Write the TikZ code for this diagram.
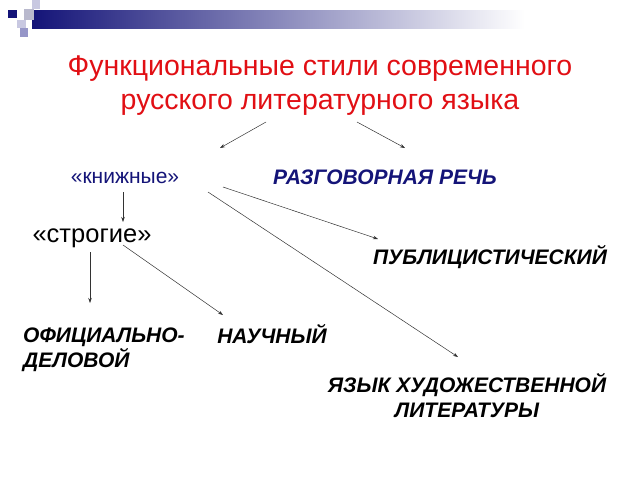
\documentclass[tikz,border=0pt]{standalone}
\usepackage{fontspec}
\setmainfont{Liberation Sans}
\usetikzlibrary{arrows.meta}
\definecolor{navy}{RGB}{20,20,120}
\definecolor{titlered}{RGB}{225,15,20}
\definecolor{sqlight}{RGB}{200,200,225}
\definecolor{sqmid}{RGB}{150,150,200}
\definecolor{sqgrey}{RGB}{185,185,205}
\tikzset{
  conn/.style={draw=black!80, line width=0.5pt, -{Stealth[length=5pt,width=3.5pt]}},
  lbl/.style={inner sep=0pt, font=\fontsize{21}{25}\selectfont},
  bi/.style={lbl, font=\fontsize{21}{25}\selectfont\bfseries\itshape},
}
\begin{document}
\begin{tikzpicture}[x=1pt,y=-1pt]
\useasboundingbox (0,0) rectangle (640,480);
% decoration
\shade[left color=navy, right color=white] (32,10) rectangle (525,28);
\fill[sqlight] (32,0) rectangle (40,9);
\fill[sqgrey] (24,9) rectangle (34,20);
\fill[sqlight] (17,20) rectangle (26,28);
\fill[sqmid] (20,28) rectangle (28,37);
\fill[navy] (8,10) rectangle (17,18);
% texts
\node[lbl, align=center, text=titlered, font=\fontsize{28.5}{34}\selectfont] (title) at (320,86) {Функциональные стили современного\\русского литературного языка};
\node[lbl, text=navy] (kn) at (125,178) {«книжные»};
\node[bi, text=navy] (rr) at (385,177) {РАЗГОВОРНАЯ РЕЧЬ};
\node[lbl, font=\fontsize{25.5}{30}\selectfont] (st) at (92,238) {«строгие»};
\node[bi] (pub) at (490,257) {ПУБЛИЦИСТИЧЕСКИЙ};
\node[bi, align=left, anchor=west] (off) at (23,350) {ОФИЦИАЛЬНО-\\ДЕЛОВОЙ};
\node[bi] (nau) at (272,334) {НАУЧНЫЙ};
\node[bi, align=center] (hud) at (467,396) {ЯЗЫК ХУДОЖЕСТВЕННОЙ\\ЛИТЕРАТУРЫ};
% arrow end points
\coordinate (t1) at (266,122);
\coordinate (e1) at (220,148);
\coordinate (t2) at (357,122);
\coordinate (e2) at (405,148);
\coordinate (k1) at (123,192);
\coordinate (e3) at (123,222);
\coordinate (k2) at (223,187);
\coordinate (e4) at (378,239);
\coordinate (k3) at (208,192);
\coordinate (e5) at (458,357);
\coordinate (s1) at (90,252);
\coordinate (e6) at (90,303);
\coordinate (s2) at (123,245);
\coordinate (e7) at (223,315);
\draw[conn] (t1) -- (e1);
\draw[conn] (t2) -- (e2);
\draw[conn] (k1) -- (e3);
\draw[conn] (k2) -- (e4);
\draw[conn] (k3) -- (e5);
\draw[conn] (s1) -- (e6);
\draw[conn] (s2) -- (e7);
\end{tikzpicture}
\end{document}
